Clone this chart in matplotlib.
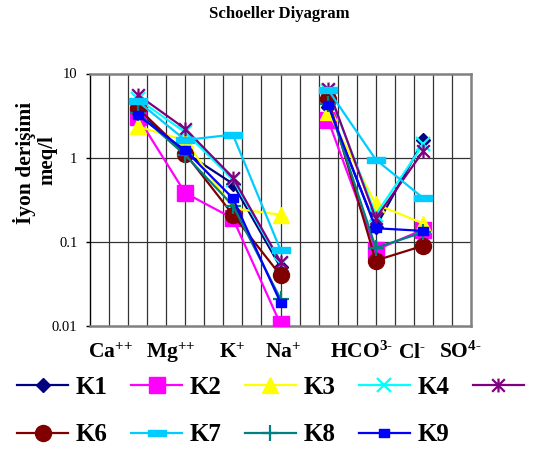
import matplotlib
matplotlib.use("Agg")
import matplotlib.pyplot as plt
from matplotlib.path import Path
import numpy as np

plt.rcParams['font.family'] = ['Liberation Serif', 'DejaVu Serif']
plt.rcParams['font.weight'] = 'bold'
plt.rcParams['mathtext.fontset'] = 'custom'
plt.rcParams['mathtext.rm'] = 'Liberation Serif:bold'
plt.rcParams['mathtext.it'] = 'Liberation Serif:bold'
plt.rcParams['mathtext.bf'] = 'Liberation Serif:bold'

# ---- data ----
series = ['K1', 'K2', 'K3', 'K4', 'K5', 'K6', 'K7', 'K8', 'K9']
cation_pos = [1, 2, 3, 4]
anion_pos = [5, 6, 7]
K1 = [3.5, 1.15, 0.49, 0.050, 4.0, 0.15, 1.6]
K2 = [3.05, 0.38, 0.19, 0.0105, 2.8, 0.080, 0.14]
K3 = [2.35, 1.6, 0.25, 0.21, 3.5, 0.28, 0.165]
K4 = [5.0, 2.0, 0.55, 0.055, 6.2, 0.21, 1.45]
K5 = [5.6, 2.2, 0.58, 0.058, 6.6, 0.19, 1.2]
K6 = [3.9, 1.12, 0.21, 0.040, 5.0, 0.060, 0.090]
K7 = [4.7, 1.62, 1.88, 0.080, 6.4, 0.95, 0.33]
K8 = [3.4, 1.07, 0.27, 0.021, 4.4, 0.085, 0.13]
K9 = [3.2, 1.22, 0.33, 0.019, 4.2, 0.145, 0.135]
values = [K1, K2, K3, K4, K5, K6, K7, K8, K9]
xlabels = [r'Ca$^{\text{++}}$', r'Mg$^{\text{++}}$', r'K$^{\text{+}}$', r'Na$^{\text{+}}$',
           r'HCO$^{\text{3-}}$', r'Cl$^{\text{-}}$', r'SO$^{\text{4-}}$']
xlabel_pos = [0.42, 1.70, 2.98, 4.05, 5.71, 6.76, 7.77]

# ---- styles ----
bar7 = Path([(-1, -0.33), (1, -0.33), (1, 0.33), (-1, 0.33), (-1, -0.33)],
            [Path.MOVETO, Path.LINETO, Path.LINETO, Path.LINETO, Path.CLOSEPOLY])
bar9 = Path([(-1, -0.7), (1, -0.7), (1, 0.7), (-1, 0.7), (-1, -0.7)],
            [Path.MOVETO, Path.LINETO, Path.LINETO, Path.LINETO, Path.CLOSEPOLY])
star = Path([(-1, -1), (1, 1), (-1, 1), (1, -1), (0, -1.1), (0, 1.1)],
            [Path.MOVETO, Path.LINETO, Path.MOVETO, Path.LINETO, Path.MOVETO, Path.LINETO])
styles = [
    dict(color='#000080', marker='D', ms=7, mfc='#000080', mec='#000080'),
    dict(color='#FF00FF', marker='s', ms=11, mfc='#FF00FF', mec='#FF00FF'),
    dict(color='#FFFF00', marker='^', ms=11, mfc='#FFFF00', mec='#FFFF00'),
    dict(color='#00FFFF', marker='x', ms=10, mew=1.6, mec='#00FFFF'),
    dict(color='#800080', marker=star, ms=10, mew=1.6, mfc='none', mec='#800080'),
    dict(color='#800000', marker='o', ms=11.5, mfc='#800000', mec='#800000'),
    dict(color='#00CCFF', marker=bar7, ms=13, mfc='#00CCFF', mec='#00CCFF'),
    dict(color='#008080', marker='+', ms=11, mew=1.6, mec='#008080'),
    dict(color='#0000FF', marker=bar9, ms=7.5, mfc='#0000FF', mec='#0000FF'),
]

fig = plt.figure(figsize=(5.59, 4.5), dpi=100)
ax = fig.add_axes([90/559, 1-326/450, (471-90)/559, (326-73.5)/450])
ax.set_yscale('log')
ax.set_xlim(0, 8)
ax.set_ylim(0.01, 10)

handles = []
for name, vals, st in zip(series, values, styles):
    h, = ax.plot(cation_pos, vals[:4], lw=1.6, label=name, zorder=3, **st)
    ax.plot(anion_pos, vals[4:], lw=1.6, zorder=3, **st)
    handles.append(h)

# grid
for gx in np.arange(0.4, 8.0, 0.4):
    ax.axvline(gx, color='#333333', lw=0.9, zorder=1)
for gy in [0.1, 1]:
    ax.axhline(gy, color='#333333', lw=0.9, zorder=1)

for s in ['top', 'right', 'bottom']:
    ax.spines[s].set_color('#808080')
    ax.spines[s].set_linewidth(1.8)
ax.spines['left'].set_color('#000000')
ax.spines['left'].set_linewidth(1.0)

ax.set_yticks([0.01, 0.1, 1, 10])
ax.set_yticklabels(['0.01', '0.1', '1', '10'])
ax.yaxis.set_minor_locator(matplotlib.ticker.NullLocator())
ax.tick_params(axis='y', length=3, width=1, labelsize=10.5, pad=6)
for t in ax.get_yticklabels():
    t.set_fontweight('normal')
ax.set_xticks(xlabel_pos)
ax.set_xticklabels(xlabels, fontsize=15.5, fontweight='bold')
ax.tick_params(axis='x', length=0, pad=23)
for t in ax.get_xticklabels():
    t.set_va('baseline')

fig.text(0.5, 1-14/450, 'Schoeller Diyagram', ha='center', va='center',
         fontsize=12, fontweight='bold')
fig.text(25/559, 1-163/450, 'İyon derişimi', rotation=90, ha='center', va='center',
         fontsize=15.5, fontweight='bold')
fig.text(47.5/559, 1-160/450, 'meq/l', rotation=90, ha='center', va='center',
         fontsize=15, fontweight='bold')

# legend: row-major order K1..K5 / K6..K9
order = [0, 5, 1, 6, 2, 7, 3, 8, 4]
leg = fig.legend(handles=[handles[i] for i in order], loc='upper left',
                 bbox_to_anchor=(17/559, 1-376/450),
                 ncol=5, frameon=False, borderpad=0, borderaxespad=0,
                 handlelength=2.05, handletextpad=0.3, columnspacing=0.93,
                 labelspacing=0.97, prop=dict(weight='bold', size=18))
# the K5 label falls outside the chart area in the reference and is not shown
for t in leg.get_texts():
    if t.get_text() == 'K5':
        t.set_visible(False)

fig.savefig('out.png', dpi=100)
